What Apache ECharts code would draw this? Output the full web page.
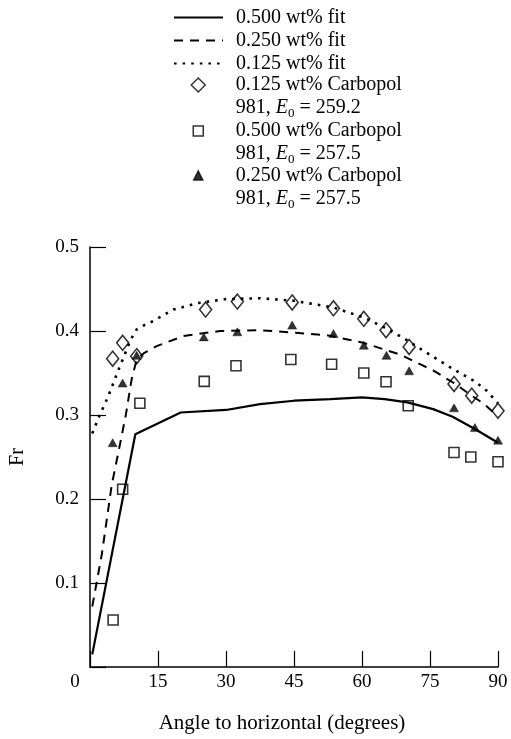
<!DOCTYPE html>
<html>
<head>
<meta charset="utf-8">
<script src="https://cdn.jsdelivr.net/npm/echarts@6/dist/echarts.min.js"></script>
<style>html,body{margin:0;padding:0;background:#fff}#c{width:511px;height:739px}</style>
</head>
<body>
<div id="c"></div>
<script>
// ---- data ----
const xTicks = [0, 15, 30, 45, 60, 75, 90];
const yTicks = [0.1, 0.2, 0.3, 0.4, 0.5];

const fit500 = [[0.5,0.015],[10,0.277],[20,0.303],[30,0.306],[37.5,0.313],[45,0.317],[53,0.319],[60,0.321],[65,0.319],[70,0.315],[75.7,0.307],[80,0.298],[85,0.283],[90,0.267]];
const fit250 = [[0.5,0.072],[2.6,0.134],[4.8,0.217],[6.5,0.262],[7.9,0.300],[9.2,0.343],[10.3,0.366],[12,0.374],[14.7,0.382],[20.6,0.394],[28.7,0.400],[37.5,0.401],[45,0.398],[52.2,0.395],[60.3,0.386],[68.4,0.372],[75.7,0.353],[80.3,0.338],[84.2,0.323],[87,0.313],[90,0.298]];
const fit125 = [[0.5,0.278],[2,0.298],[4,0.322],[6,0.350],[7.5,0.370],[9,0.390],[10.3,0.402],[12,0.407],[14,0.412],[18.4,0.4255],[23.5,0.433],[30,0.438],[37.5,0.439],[45,0.436],[53.7,0.428],[60.4,0.416],[65,0.404],[69,0.392],[74.3,0.374],[80,0.355],[84.6,0.341],[87.5,0.329],[90,0.314]];

const carb125 = [[5,0.367],[7.2,0.386],[10.3,0.370],[25.5,0.4255],[32.5,0.435],[44.6,0.434],[53.7,0.427],[60.4,0.4145],[65.3,0.401],[70.4,0.381],[80.3,0.337],[84.2,0.323],[90,0.305]];
const carb500 = [[5.1,0.056],[7.2,0.2116],[11,0.314],[25.2,0.340],[32.2,0.3586],[44.3,0.366],[53.3,0.3605],[60.4,0.350],[65.3,0.3396],[70.2,0.311],[80.3,0.2553],[84,0.250],[90,0.2443]];
const carb250 = [[5,0.267],[7.2,0.338],[10.3,0.371],[25.1,0.393],[32.5,0.399],[44.6,0.407],[53.7,0.397],[60.4,0.383],[65.4,0.371],[70.4,0.3526],[80.3,0.3085],[84.9,0.285],[90,0.270]];

const names = {
  f500: '0.500 wt% fit', f250: '0.250 wt% fit', f125: '0.125 wt% fit',
  c125: '0.125 wt% Carbopol', c500: '0.500 wt% Carbopol', c250: '0.250 wt% Carbopol'
};
const e0 = { c125: '259.2', c500: '257.5', c250: '257.5' };

// ---- chart ----
const FONT = 'Liberation Serif';
const chart = echarts.init(document.getElementById('c'), null, {renderer: 'canvas'});

const richLegend = {
  i: {fontFamily: FONT, fontSize: 20, fontStyle: 'italic', lineHeight: 23, color: '#000'},
  s: {fontFamily: FONT, fontSize: 13, lineHeight: 23, padding: [12, 0, 0, 0], color: '#000'}
};
const ICON_CX = 197.5, TEXT_X = 235;
function markerLegend(key, top, icon, h) {
  const left = ICON_CX - h / 2;
  const padLeft = TEXT_X - (left + h + 5);
  return {
    top: top, left: left, orient: 'vertical', padding: 0,
    itemWidth: h, itemHeight: h, selectedMode: false, symbolKeepAspect: true,
    data: [{name: names[key], icon: icon, itemStyle: {color: key === 'c250' ? '#000' : '#fff', borderColor: '#000', borderWidth: 1.5}}],
    formatter: n => n + '\n981, {i|E}{s|0} = ' + e0[key],
    textStyle: {fontFamily: FONT, fontSize: 20, color: '#000', lineHeight: 23, padding: [23, 0, 0, padLeft], rich: richLegend}
  };
}

const option = {
  backgroundColor: '#fff',
  animation: false,
  grid: {left: 90, right: 13, top: 247, bottom: 69, containLabel: false},
  legend: [
    {
      top: 6, left: 173, orient: 'vertical', padding: 0, itemGap: 0,
      itemWidth: 49, itemHeight: 14, selectedMode: false,
      itemStyle: {color: 'rgba(0,0,0,0)', borderWidth: 0, opacity: 0},
      data: [names.f500, names.f250, names.f125],
      textStyle: {fontFamily: FONT, fontSize: 20, color: '#000', lineHeight: 23, padding: [0, 0, 0, 8]}
    },
    markerLegend('c125', 50.5, 'diamond', 14),
    markerLegend('c500', 96.5, 'rect', 10),
    markerLegend('c250', 141, 'triangle', 9)
  ],
  xAxis: {
    type: 'value', min: 0, max: 90, interval: 15,
    name: 'Angle to horizontal (degrees)', nameLocation: 'middle', nameGap: 46,
    nameTextStyle: {fontFamily: FONT, fontSize: 21, color: '#000', padding: [0, 24, 0, 0]},
    axisLine: {show: true, lineStyle: {color: '#000', width: 1.5}},
    axisTick: {show: true, inside: true, length: 16, lineStyle: {color: '#000', width: 1.2}},
    splitLine: {show: false},
    axisLabel: {
      fontFamily: FONT, fontSize: 19, color: '#000', margin: 6,
      formatter: v => (xTicks.indexOf(v) < 0 ? '' : (v === 0 ? '{z|0}' : String(v))),
      rich: {z: {fontFamily: FONT, fontSize: 19, color: '#000', padding: [0, 30, 0, 0]}}
    }
  },
  yAxis: {
    type: 'value', min: 0, max: 0.5, interval: 0.1,
    name: 'Fr', nameLocation: 'middle', nameGap: 62, nameRotate: 90,
    nameTextStyle: {fontFamily: FONT, fontSize: 20, color: '#000'},
    axisLine: {show: true, lineStyle: {color: '#000', width: 1.5}},
    axisTick: {show: true, inside: true, length: 16, lineStyle: {color: '#000', width: 1.2}},
    splitLine: {show: false},
    axisLabel: {
      fontFamily: FONT, fontSize: 19, color: '#000', margin: 11,
      formatter: v => {
        const t = yTicks.find(y => Math.abs(y - v) < 1e-9);
        return t === undefined ? '' : t.toFixed(1);
      }
    }
  },
  series: [
    {name: names.f500, type: 'line', data: fit500, symbol: 'none', clip: false,
     lineStyle: {color: '#000', width: 2.2, type: 'solid'}, itemStyle: {color: '#000'}},
    {name: names.f250, type: 'line', data: fit250, symbol: 'none', clip: false,
     lineStyle: {color: '#000', width: 2, type: [9, 7]}, itemStyle: {color: '#000'}},
    {name: names.f125, type: 'line', data: fit125, symbol: 'none', clip: false,
     lineStyle: {color: '#000', width: 2.6, type: [2.6, 6]}, itemStyle: {color: '#000'}},
    {name: names.c125, type: 'scatter', data: carb125, symbol: 'diamond', symbolSize: [12, 15], clip: false,
     itemStyle: {color: '#fff', borderColor: '#000', borderWidth: 1.6}},
    {name: names.c500, type: 'scatter', data: carb500, symbol: 'rect', symbolSize: [10, 10], clip: false,
     itemStyle: {color: '#fff', borderColor: '#000', borderWidth: 1.6}},
    {name: names.c250, type: 'scatter', data: carb250, symbol: 'triangle', symbolSize: [9, 8], clip: false,
     itemStyle: {color: '#000', borderColor: '#000', borderWidth: 0.5}}
  ]
};
chart.setOption(option);
</script>
</body>
</html>
